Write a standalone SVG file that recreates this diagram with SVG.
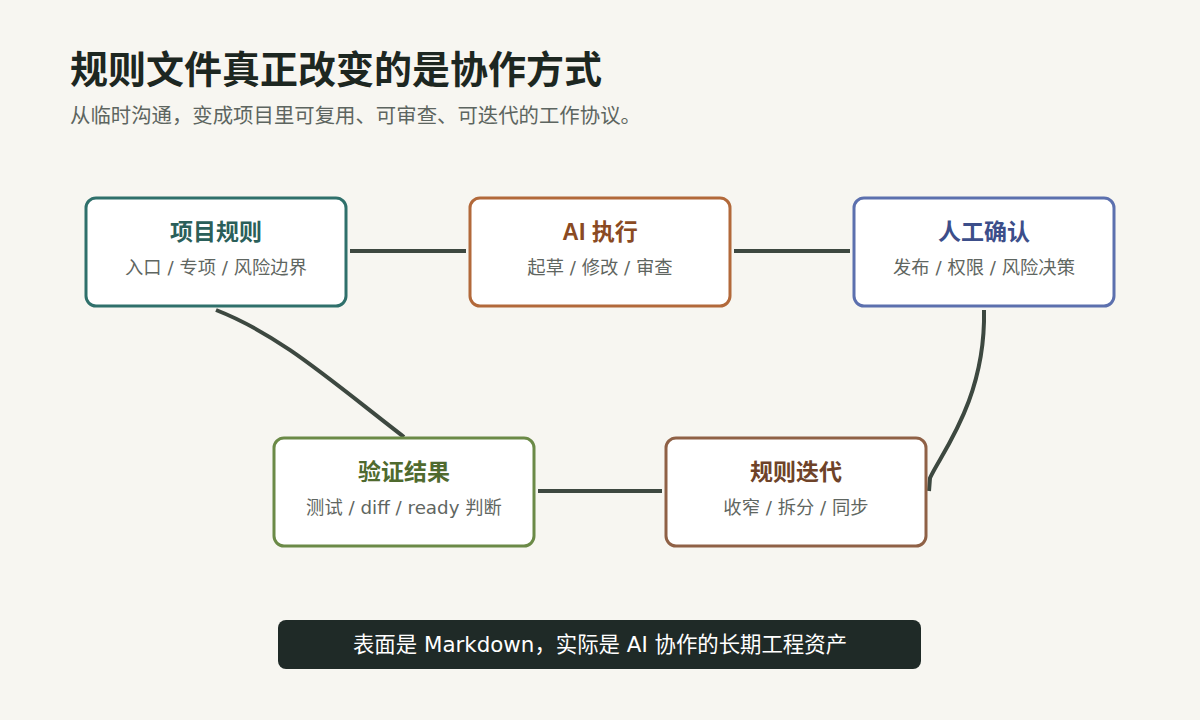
<svg xmlns="http://www.w3.org/2000/svg" width="1200" height="720" viewBox="0 0 1200 720">
<style>
.t{font-family:"Noto Sans CJK SC",sans-serif}
.m{font-family:"DejaVu Sans","Noto Sans CJK SC",sans-serif}
.title{font-size:38px;font-weight:700;fill:#1d2721}
.sub{font-size:20.4px;fill:#5d6560}
.box{fill:#ffffff;stroke-width:3}
.nt{font-family:"Liberation Sans","Noto Sans CJK SC",sans-serif;font-size:23px;font-weight:700;text-anchor:middle}
.ns{font-size:18.3px;fill:#5f6661;text-anchor:middle}
.c{fill:none;stroke:#3d4840;stroke-width:4;stroke-linecap:butt}
</style>
<rect width="1200" height="720" fill="#f7f6f1"/>
<text class="t title" x="70" y="83">规则文件真正改变的是协作方式</text>
<text class="t sub" x="70" y="123">从临时沟通，变成项目里可复用、可审查、可迭代的工作协议。</text>
<g id="connectors">
<path class="c" d="M350 251 H466"/>
<path class="c" d="M734 251 H850"/>
<path class="c" d="M538 491 H662"/>
<path class="c" d="M216 310 C280 335 330 380 404 437"/>
<path class="c" d="M984 310 C986 400 940 455 930 478 L929 491"/>
</g>
<g id="n1">
<rect class="box" x="86" y="198" width="260" height="108" rx="10" stroke="#2f706b"/>
<text class="nt" x="216" y="240" fill="#2b5f5a">项目规则</text>
<text class="m ns" x="216" y="274">入口 / 专项 / 风险边界</text>
</g>
<g id="n2">
<rect class="box" x="470" y="198" width="260" height="108" rx="10" stroke="#b2693a"/>
<text class="nt" x="600" y="240" fill="#8a4a22">AI 执行</text>
<text class="m ns" x="600" y="274">起草 / 修改 / 审查</text>
</g>
<g id="n3">
<rect class="box" x="854" y="198" width="260" height="108" rx="10" stroke="#5c70ae"/>
<text class="nt" x="984" y="240" fill="#3c4e8a">人工确认</text>
<text class="m ns" x="984" y="274">发布 / 权限 / 风险决策</text>
</g>
<g id="n4">
<rect class="box" x="274" y="438" width="260" height="108" rx="10" stroke="#6b8a47"/>
<text class="nt" x="404" y="480" fill="#4f6a2e">验证结果</text>
<text class="m ns" x="404" y="514">测试 / diff / ready 判断</text>
</g>
<g id="n5">
<rect class="box" x="666" y="438" width="260" height="108" rx="10" stroke="#8f6146"/>
<text class="nt" x="796" y="480" fill="#6e4329">规则迭代</text>
<text class="m ns" x="796" y="514">收窄 / 拆分 / 同步</text>
</g>
<g id="footer">
<rect x="278" y="620" width="643" height="49" rx="8" fill="#1f2a27"/>
<text class="m" x="600" y="652" font-size="21.4" fill="#ffffff" text-anchor="middle">表面是 Markdown，实际是 AI 协作的长期工程资产</text>
</g>
</svg>
